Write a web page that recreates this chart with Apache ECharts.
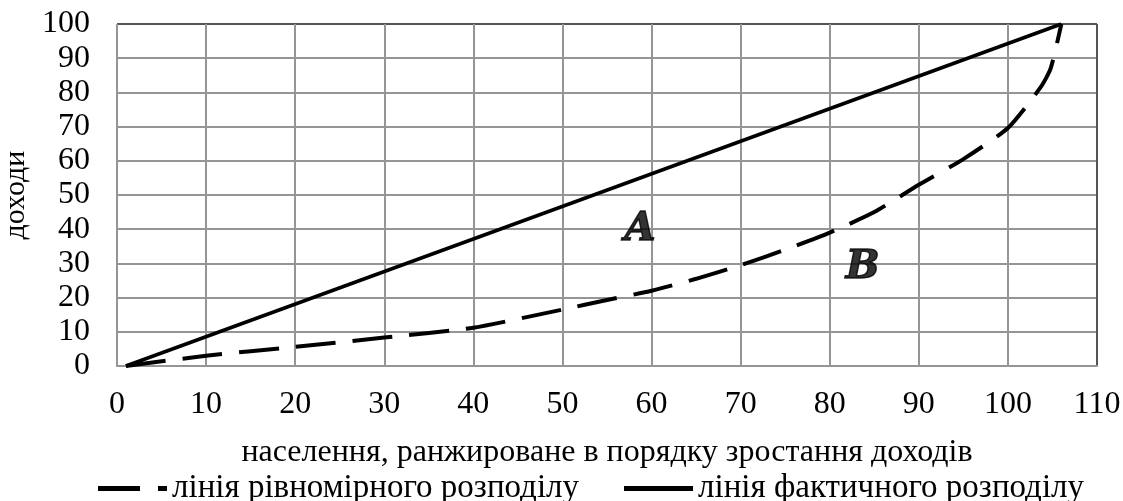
<!DOCTYPE html>
<html><head><meta charset="utf-8">
<script src="https://cdn.jsdelivr.net/npm/echarts@6/dist/echarts.min.js"></script>
<style>html,body{margin:0;padding:0;background:#fff}#c{width:1123px;height:501px}</style>
</head><body><div id="c"></div>
<script>
const xTickLabels = ['0','10','20','30','40','50','60','70','80','90','100','110'];
const uniformX = [1, 10, 20, 30, 40, 50, 55, 60, 65, 70, 75, 80, 85, 90, 95, 100, 103.7, 104.8, 106];
const uniformY = [0, 3, 5.6, 8.3, 11.2, 16.5, 19.3, 22, 25.5, 29.5, 34, 39, 45, 53, 60.5, 69.6, 81.6, 87, 100];
const actualX = [1, 106];
const actualY = [0, 100];
const labelNames = ['A', 'B'];
const labelX = [58.7, 83.7];
const labelY = [39.8, 28.7];
const seriesNames = ['лінія рівномірного розподілу', 'лінія фактичного розподілу'];

const F = 'Liberation Serif';
const chart = echarts.init(document.getElementById('c'));
const gx = xTickLabels.map((_, i) => i === xTickLabels.length - 1 ? '#555' : '#959595');
const gy = Array.from({length: 11}, (_, i) => i === 10 ? '#555' : '#959595');
chart.setOption({
  animation: false,
  grid: {left: 117, right: 26, top: 24, bottom: 135, outerBoundsMode: 'none', containLabel: false},
  xAxis: {
    type: 'value', min: 0, max: 110, interval: 10,
    axisLine: {show: true, lineStyle: {color: '#959595', width: 2}},
    axisTick: {show: false},
    splitLine: {show: true, lineStyle: {color: gx, width: 2}},
    axisLabel: {color: '#000', fontFamily: F, fontSize: 32, margin: 23,
      formatter: v => xTickLabels[Math.round(v / 10)]},
    name: 'населення, ранжироване в порядку зростання доходів',
    nameLocation: 'middle', nameGap: 71,
    nameTextStyle: {color: '#000', fontFamily: F, fontSize: 32}
  },
  yAxis: {
    type: 'value', min: 0, max: 100, interval: 10,
    axisLine: {show: false},
    axisTick: {show: false},
    splitLine: {show: true, lineStyle: {color: gy, width: 2}},
    axisLabel: {color: '#000', fontFamily: F, fontSize: 32, margin: 27},
    name: 'доходи', nameLocation: 'middle', nameGap: 81, nameRotate: 90,
    nameTextStyle: {color: '#000', fontFamily: F, fontSize: 30}
  },
  legend: {
    top: 467, left: 93, itemGap: 45, itemWidth: 69, itemHeight: 5,
    textStyle: {color: '#000', fontFamily: F, fontSize: 33},
    itemStyle: {color: '#000', borderWidth: 0},
    data: [
      {name: seriesNames[0], icon: 'path://M0,0H42V5H0Z M60,0H69V5H60Z'},
      {name: seriesNames[1], icon: 'path://M0,0H69V5H0Z'}
    ]
  },
  series: [
    {
      name: seriesNames[0], type: 'line', symbol: 'none', smooth: 0.2,
      data: uniformX.map((x, i) => [x, uniformY[i]]),
      lineStyle: {color: '#000', width: 4, type: [40, 17]},
      itemStyle: {color: '#000'}, z: 3
    },
    {
      name: seriesNames[1], type: 'line', symbol: 'none',
      data: actualX.map((x, i) => [x, actualY[i]]),
      lineStyle: {color: '#000', width: 3.5},
      itemStyle: {color: '#000'}, z: 3
    },
    {
      type: 'scatter', symbolSize: 0, silent: true,
      data: labelX.map((x, i) => ({value: [x, labelY[i]], name: labelNames[i]})),
      label: {show: true, position: 'inside', formatter: p => p.name,
        fontFamily: 'DejaVu Serif', fontWeight: 'bold', fontStyle: 'italic',
        fontSize: 40, color: '#000', textBorderColor: '#000', textBorderWidth: 1.5}
    }
  ]
});
</script></body></html>
